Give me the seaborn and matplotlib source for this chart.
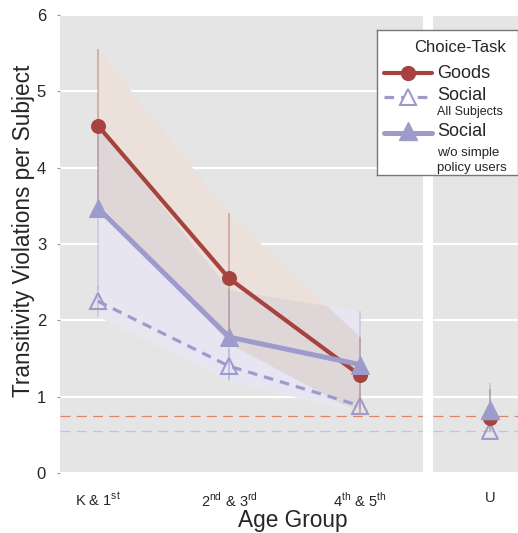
import matplotlib
matplotlib.use("Agg")
import matplotlib.pyplot as plt
import numpy as np
import pandas as pd
import seaborn as sns

# --- data ---
groups = [r"K & 1$^{\mathrm{st}}$", r"2$^{\mathrm{nd}}$ & 3$^{\mathrm{rd}}$", r"4$^{\mathrm{th}}$ & 5$^{\mathrm{th}}$"]
goods_mean = [4.55, 2.55, 1.28]
goods_lo = [3.55, 1.70, 0.78]
goods_hi = [5.55, 3.40, 1.78]

social_wo_mean = [3.47, 1.78, 1.42]
social_wo_lo = [2.40, 1.22, 0.85]
social_wo_hi = [4.55, 2.40, 2.12]

social_all_mean = [2.25, 1.40, 0.88]
social_all_lo = [2.05, 1.20, 0.80]
social_all_hi = [2.45, 1.62, 0.96]

u_label = ["U"]
u_goods = [0.72, 0.55, 1.10]       # mean, lo, hi
u_social_wo = [0.82, 0.62, 1.18]
u_social_all = [0.55, 0.45, 0.65]

chance_goods = 0.75
chance_social = 0.55

RED = "#A6433E"
LAV = "#9D9BCC"

sns.set_theme(style="darkgrid", rc={"axes.facecolor": "#E5E5E5", "grid.color": "white",
                                    "grid.linewidth": 1.6})
plt.rcParams["font.family"] = ["Liberation Sans", "DejaVu Sans"]
plt.rcParams["mathtext.fontset"] = "custom"
plt.rcParams["mathtext.rm"] = "Liberation Sans"

fig = plt.figure(figsize=(5.18, 5.33), dpi=100)
ax = fig.add_axes([60 / 518, 60 / 533, 363 / 518, 458 / 533])
ax2 = fig.add_axes([433 / 518, 60 / 533, 85 / 518, 458 / 533])

df = pd.DataFrame({
    "pos": list(range(3)) * 3,
    "value": goods_mean + social_wo_mean + social_all_mean,
    "series": ["Goods"] * 3 + ["Social w/o"] * 3 + ["Social all"] * 3,
})
x = np.arange(3)

# bands (the overlap of goods and social bands is shaded darker)
ax.fill_between(x, social_all_lo, social_all_hi, color="#E8E7EF", lw=0, zorder=1)
ax.fill_between(x, social_wo_lo, social_wo_hi, color="#E7E5F2", lw=0, zorder=1.1)
ax.fill_between(x, goods_lo, goods_hi, color="#ECE1DA", lw=0, zorder=1.2)
xs = np.linspace(0, 2, 400)
ov_lo = np.maximum(np.interp(xs, x, goods_lo), np.interp(xs, x, social_wo_lo))
ov_hi = np.minimum(np.interp(xs, x, goods_hi), np.interp(xs, x, social_wo_hi))
ax.fill_between(xs, ov_lo, ov_hi, where=ov_hi > ov_lo, color="#DFD6D7", lw=0, zorder=1.3)

# error bars
ax.vlines(x, goods_lo, goods_hi, color=RED, alpha=0.35, lw=1.3, zorder=2)
ax.vlines(x, social_wo_lo, social_wo_hi, color=LAV, alpha=0.35, lw=1.3, zorder=2)
ax.vlines(x, social_all_lo, social_all_hi, color=LAV, alpha=0.35, lw=1.3, zorder=2)

for a in (ax, ax2):
    a.axhline(chance_goods, color="#D9866A", lw=0.9, ls=(0, (8, 5)), zorder=2)
    a.axhline(chance_social, color="#C4C2E0", lw=0.9, ls=(0, (8, 5)), zorder=2)

sns.lineplot(data=df[df.series == "Social all"], x="pos", y="value", ax=ax, color=LAV,
             lw=2.3, linestyle=(0, (3, 2.2)), marker="^", markersize=11, mfc="none",
             mec=LAV, mew=1.5, zorder=3)
sns.lineplot(data=df[df.series == "Goods"], x="pos", y="value", ax=ax, color=RED,
             lw=3.0, marker="o", markersize=10, mec=RED, zorder=4)
sns.lineplot(data=df[df.series == "Social w/o"], x="pos", y="value", ax=ax, color=LAV,
             lw=3.6, marker="^", markersize=13, mec=LAV, zorder=5)

# U panel
ax2.vlines([0, 0], [u_goods[1], u_social_wo[1]], [u_goods[2], u_social_wo[2]],
           colors=[RED, LAV], alpha=0.4, lw=1.3, zorder=2)
sns.scatterplot(x=[0], y=[u_social_all[0]], ax=ax2, marker="^", s=130, fc="none",
                ec=LAV, lw=1.5, zorder=3)
sns.scatterplot(x=[0], y=[u_goods[0]], ax=ax2, marker="o", s=100, color=RED, ec=RED, zorder=4)
sns.scatterplot(x=[0], y=[u_social_wo[0]], ax=ax2, marker="^", s=170, color=LAV, ec=LAV, zorder=5)

ax.set_xlim(-0.29, 2.48)
ax2.set_xlim(-0.435, 0.215)
for a in (ax, ax2):
    a.set_ylim(0, 6)
    a.grid(axis="x", visible=False)
    a.set_xlabel("")
    a.set_ylabel("")
    for s in a.spines.values():
        s.set_visible(False)
ax.set_xticks(x)
ax.set_xticklabels(groups, fontsize=10.5)
ax2.set_xticks([0])
ax2.set_xticklabels(u_label, fontsize=10.5)
ax.tick_params(axis="x", length=0, pad=13)
ax2.tick_params(axis="x", length=0, pad=13)
ax.set_yticks(range(7))
ax.tick_params(axis="y", length=2, width=0.8, color="#999999", labelsize=12, pad=8, left=True)
ax2.set_yticks(range(7))
ax2.set_yticklabels([])
ax2.tick_params(axis="y", length=0)

fig.text(24 / 518, 1 - 231 / 533, "Transitivity Violations per Subject", fontsize=16.3,
         rotation=90, ha="center", va="center")
fig.text(293 / 518, 13 / 533, "Age Group", fontsize=16.3, ha="center", va="center")

# legend drawn in its own small axes
lg = fig.add_axes([377 / 518, (533 - 175) / 533, 141 / 518, 145 / 533])
lg.set_xlim(0, 141)
lg.set_ylim(145, 0)
lg.set_facecolor("white")
lg.set_xticks([])
lg.set_yticks([])
lg.grid(False)
for s in lg.spines.values():
    s.set_visible(True)
    s.set_color("#777777")
    s.set_linewidth(1.0)
lg.text(83, 17, "Choice-Task", fontsize=12, ha="center", va="center")
lg.plot([7, 55], [43, 43], color=RED, lw=3.0)
lg.plot([31], [43], marker="o", markersize=10, color=RED)
lg.text(60, 43, "Goods", fontsize=13, va="center")
lg.plot([7, 55], [67, 67], color=LAV, lw=2.3, ls=(0, (3, 2.2)))
lg.plot([31], [67], marker="^", markersize=11, mfc="white", mec=LAV, mew=1.5)
lg.text(60, 66, "Social", fontsize=13, va="center")
lg.text(60, 82, "All Subjects", fontsize=9, va="center")
lg.plot([7, 55], [103, 103], color=LAV, lw=3.6)
lg.plot([31], [101], marker="^", markersize=13, color=LAV)
lg.text(60, 102, "Social", fontsize=13, va="center")
lg.text(60, 123, "w/o simple", fontsize=9.5, va="center")
lg.text(60, 138, "policy users", fontsize=9.5, va="center")

fig.savefig("out.png", dpi=100)
